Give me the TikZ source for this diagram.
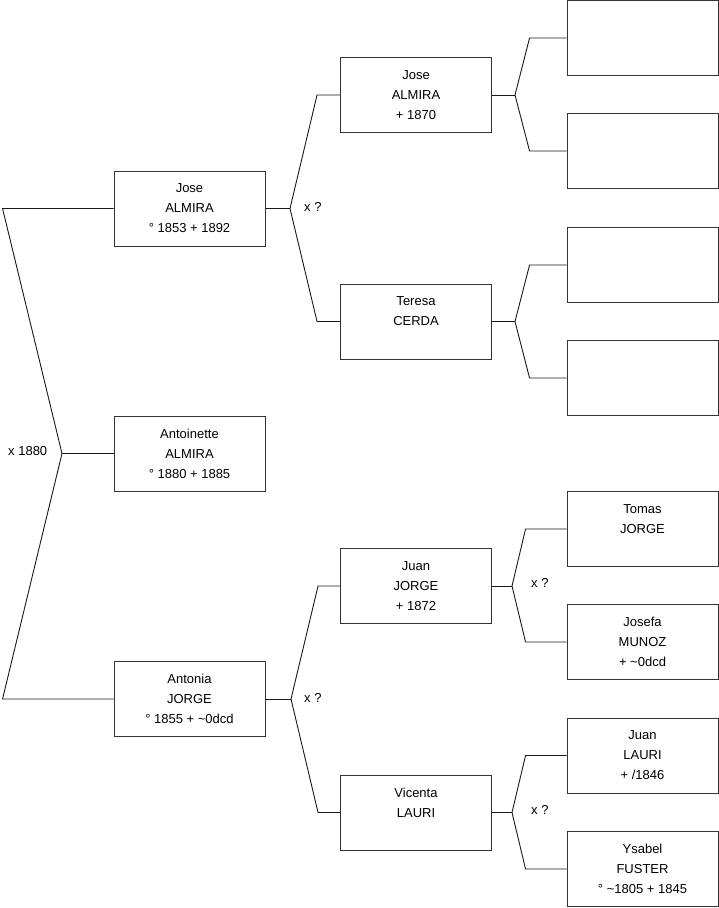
\documentclass[tikz,border=0pt]{standalone}
\usepackage{fontspec}
\setmainfont{Liberation Sans}
\begin{document}
\begin{tikzpicture}[
    x=1pt, y=-1pt,
    person/.style={rectangle, draw=black!80, line width=0.9pt, minimum width=151pt, minimum height=75pt, align=center, inner sep=0pt, font=\fontsize{13}{20}\selectfont},
    link/.style={draw=black!90, line width=0.9pt},
    lbl/.style={anchor=west, inner sep=0pt, font=\fontsize{13}{16}\selectfont}
]
\useasboundingbox (0,0) rectangle (719,908);

% generation 1
\node[person] (antoinette) at (189.5, 453.5) {Antoinette\\ALMIRA\\° 1880 + 1885};
% generation 2
\node[person] (jose)   at (189.5, 208.5) {Jose\\ALMIRA\\° 1853 + 1892};
\node[person] (antonia) at (189.5, 699)  {Antonia\\JORGE\\° 1855 + \textasciitilde 0dcd};
% generation 3
\node[person] (josep)   at (416, 95)    {Jose\\ALMIRA\\+ 1870};
\node[person] (teresa)  at (416, 321.5) {Teresa\\CERDA\\~};
\node[person] (juan)    at (416, 586)   {Juan\\JORGE\\+ 1872};
\node[person] (vicenta) at (416, 812.5) {Vicenta\\LAURI\\~};
% generation 4
\node[person] (g1) at (642.5, 38)    {};
\node[person] (g2) at (642.5, 151)   {};
\node[person] (g3) at (642.5, 265)   {};
\node[person] (g4) at (642.5, 378)   {};
\node[person] (g5) at (642.5, 529)   {Tomas\\JORGE\\~};
\node[person] (g6) at (642.5, 642)   {Josefa\\MUNOZ\\+ \textasciitilde 0dcd};
\node[person] (g7) at (642.5, 755.5) {Juan\\LAURI\\+ /1846};
\node[person] (g8) at (642.5, 869)   {Ysabel\\FUSTER\\° \textasciitilde 1805 + 1845};

% forks
\coordinate (f0) at (62, 453.5);
\coordinate (f1) at (290, 208.5);
\coordinate (f2) at (291, 699);
\coordinate (f3) at (515, 95);
\coordinate (f4) at (515, 321.5);
\coordinate (f5) at (512, 586);
\coordinate (f6) at (512, 812.5);

\draw[link] (antoinette.west) -- (f0);
\draw[link] (f0) -- ([xshift=-111pt]jose.west) -- (jose.west);
\draw[link] (f0) -- ([xshift=-111pt]antonia.west) -- (antonia.west);

\draw[link] (jose.east) -- (f1);
\draw[link] (f1) -- ([xshift=-23pt]josep.west) -- (josep.west);
\draw[link] (f1) -- ([xshift=-23pt]teresa.west) -- (teresa.west);
\draw[link] (antonia.east) -- (f2);
\draw[link] (f2) -- ([xshift=-22pt]juan.west) -- (juan.west);
\draw[link] (f2) -- ([xshift=-22pt]vicenta.west) -- (vicenta.west);

\draw[link] (josep.east) -- (f3);
\draw[link] (f3) -- ([xshift=-37pt]g1.west) -- (g1.west);
\draw[link] (f3) -- ([xshift=-37pt]g2.west) -- (g2.west);
\draw[link] (teresa.east) -- (f4);
\draw[link] (f4) -- ([xshift=-37pt]g3.west) -- (g3.west);
\draw[link] (f4) -- ([xshift=-37pt]g4.west) -- (g4.west);
\draw[link] (juan.east) -- (f5);
\draw[link] (f5) -- ([xshift=-41pt]g5.west) -- (g5.west);
\draw[link] (f5) -- ([xshift=-41pt]g6.west) -- (g6.west);
\draw[link] (vicenta.east) -- (f6);
\draw[link] (f6) -- ([xshift=-41pt]g7.west) -- (g7.west);
\draw[link] (f6) -- ([xshift=-41pt]g8.west) -- (g8.west);

% marriages
\node[lbl] (m0) at (8, 451)   {x 1880};
\node[lbl] (m1) at (304, 207) {x ?};
\node[lbl] (m2) at (304, 698) {x ?};
\node[lbl] (m3) at (531, 583) {x ?};
\node[lbl] (m4) at (531, 810) {x ?};
\end{tikzpicture}
\end{document}
